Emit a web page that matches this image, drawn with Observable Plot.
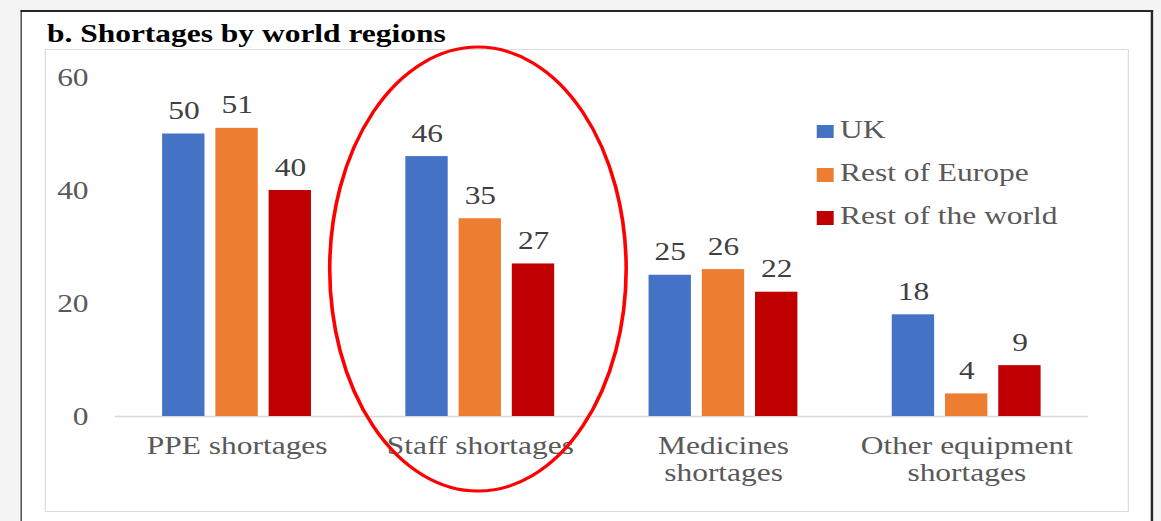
<!DOCTYPE html>
<html>
<head>
<meta charset="utf-8">
<script src="https://cdn.jsdelivr.net/npm/d3@7"></script>
<script src="https://cdn.jsdelivr.net/npm/@observablehq/plot@0.6"></script>
<style>
html, body { margin: 0; padding: 0; background: #f4f4f4; overflow: hidden; width: 1161px; height: 521px; }
#stage { position: absolute; left: 0; top: 0; width: 960px; height: 521px; transform: scaleX(1.21); transform-origin: 0 0; font-family: "Liberation Serif", "Times New Roman", serif; }
#outer { position: absolute; left: 17.4px; top: 9.5px; width: 932.5px; height: 600px; border-style: solid; border-color: #262626; border-width: 2px 2.2px 0 1.7px; background: #fff; }
#inner { position: absolute; left: 37.2px; top: 49.3px; width: 893.9px; height: 460.6px; border-style: solid; border-color: #dcdcdc; border-width: 1.7px 1.4px; }
#title { position: absolute; left: 38.8px; top: 21.2px; font-weight: bold; font-size: 26px; line-height: 26px; color: #000; white-space: nowrap; }
#chart { position: absolute; left: 0; top: 0; }
.legend-item { position: absolute; left: 675px; height: 26px; font-size: 26px; line-height: 26px; color: #595959; white-space: nowrap; }
.legend-item .sw { position: absolute; left: 0; top: 8.6px; width: 13.7px; height: 13.4px; }
.legend-item .lb { position: absolute; left: 19.2px; top: 0; }
</style>
</head>
<body>
<div id="stage">
  <div id="outer"></div>
  <div id="inner"></div>
  <div id="title">b. Shortages by world regions</div>
  <div id="chart"></div>
  <div id="legend"></div>
</div>
<script>
// ---- data ----
const categories = ["PPE shortages", "Staff shortages", "Medicines shortages", "Other equipment shortages"];
const tickLabels = ["PPE shortages", "Staff shortages", "Medicines\nshortages", "Other equipment\nshortages"];
const series = ["UK", "Rest of Europe", "Rest of the world"];
const ukValues = [50, 46, 25, 18];
const restOfEuropeValues = [51, 35, 26, 4];
const restOfWorldValues = [40, 27, 22, 9];
const yTicks = [0, 20, 40, 60];
const seriesColors = ["#4472C4", "#ED7D31", "#C00000"];

const seriesValues = [ukValues, restOfEuropeValues, restOfWorldValues];
const data = categories.flatMap((c, i) =>
  series.map((s, j) => ({category: c, series: s, value: seriesValues[j][i]}))
);

const plot = Plot.plot({
  width: 960,
  height: 521,
  marginLeft: 95,
  marginRight: 61,
  marginTop: 77,
  marginBottom: 105,
  style: {fontFamily: "'Liberation Serif', 'Times New Roman', serif", fontSize: "26px", color: "#595959", background: "transparent", overflow: "visible"},
  fx: {domain: categories, padding: 0, label: null},
  x: {domain: series, paddingInner: 0.2026, paddingOuter: 0.883, axis: null},
  y: {domain: [0, 60], axis: null},
  color: {domain: series, range: seriesColors},
  marks: [
    Plot.axisY({ticks: yTicks, tickSize: 0, tickPadding: 22.3, label: null, fill: "#595959"}),
    Plot.axisFx({anchor: "bottom", tickSize: 0, tickPadding: 18.8, label: null, lineHeight: 1.03, fill: "#595959",
      tickFormat: d => tickLabels[categories.indexOf(d)]}),
    Plot.ruleY([0], {stroke: "#d9d9d9", strokeWidth: 1.7}),
    Plot.barY(data, {fx: "category", x: "series", y: "value", fill: "series"}),
    Plot.text(data, {fx: "category", x: "series", y: "value", text: d => String(d.value),
      lineAnchor: "bottom", dy: -15, fill: "#404040"})
  ]
});
document.getElementById("chart").appendChild(plot);

// red ellipse annotation around the "Staff shortages" group
const fxScale = plot.scale("fx");
const yScale = plot.scale("y");
const cx = fxScale.apply("Staff shortages") + fxScale.bandwidth / 2 - 1.5;
const cy = yScale.apply(26);
d3.select(plot).append("ellipse")
  .attr("cx", cx).attr("cy", cy)
  .attr("rx", 122.5).attr("ry", 222)
  .attr("fill", "none").attr("stroke", "#ff0000").attr("stroke-width", 3);

// legend
const legend = document.getElementById("legend");
const legendTops = [116.5, 159.7, 202.9];
series.forEach((s, i) => {
  const item = document.createElement("div");
  item.className = "legend-item";
  item.style.top = legendTops[i] + "px";
  const sw = document.createElement("span");
  sw.className = "sw";
  sw.style.background = seriesColors[i];
  const lb = document.createElement("span");
  lb.className = "lb";
  lb.textContent = s;
  item.appendChild(sw);
  item.appendChild(lb);
  legend.appendChild(item);
});
</script>
</body>
</html>
